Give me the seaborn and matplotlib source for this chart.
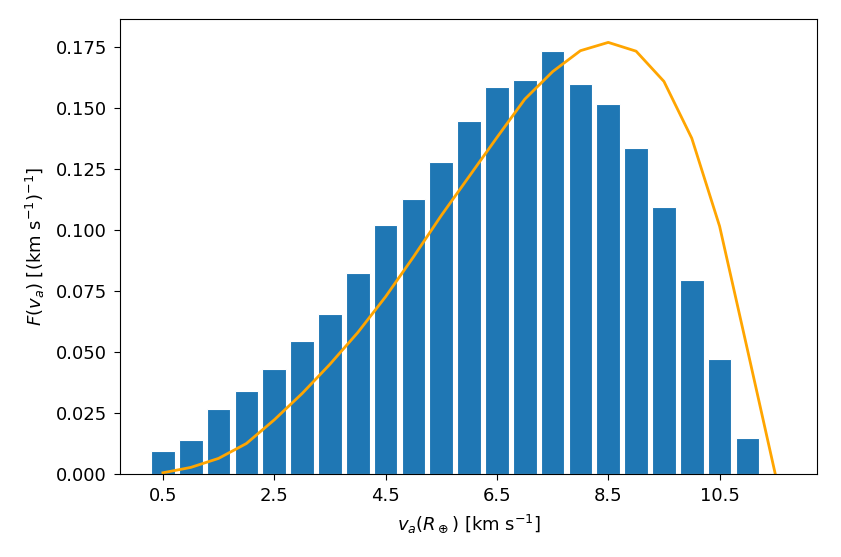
import matplotlib
matplotlib.use('Agg')
import matplotlib.pyplot as plt
import numpy as np
import seaborn as sns

# histogram of velocities (bar centres and heights)
v_bins = [0.5, 1.0, 1.5, 2.0, 2.5, 3.0, 3.5, 4.0, 4.5, 5.0, 5.5,
          6.0, 6.5, 7.0, 7.5, 8.0, 8.5, 9.0, 9.5, 10.0, 10.5, 11.0]
f_hist = [0.0095, 0.0141, 0.0267, 0.0339, 0.0432, 0.0545, 0.0657, 0.0825,
          0.1022, 0.1126, 0.1281, 0.1448, 0.1586, 0.1617, 0.1733, 0.1599,
          0.1518, 0.1335, 0.1097, 0.0795, 0.0470, 0.0148]

# model curve
v_model = [0.5, 1.0, 1.5, 2.0, 2.5, 3.0, 3.5, 4.0, 4.5, 5.0, 5.5, 6.0,
           6.5, 7.0, 7.5, 8.0, 8.5, 9.0, 9.5, 10.0, 10.5, 11.0, 11.5]
f_model = [0.0005, 0.0027, 0.0064, 0.0125, 0.0222, 0.0330, 0.0450, 0.0580,
           0.0727, 0.0890, 0.1060, 0.1220, 0.1380, 0.1537, 0.1650, 0.1736,
           0.1770, 0.1734, 0.1610, 0.1377, 0.1016, 0.0510, 0.0]

xticks = [0.5, 2.5, 4.5, 6.5, 8.5, 10.5]

fig = plt.figure(figsize=(8.41, 5.57), dpi=100)
ax = fig.add_axes([0.1427, 0.149, 0.8288, 0.8169])

sns.barplot(x=v_bins, y=f_hist, native_scale=True, width=0.85,
            color='#1f77b4', saturation=1, edgecolor='white', linewidth=0.8,
            errorbar=None, ax=ax)
sns.lineplot(x=v_model, y=f_model, color='orange', linewidth=2, ax=ax)

ax.set_xlim(-0.27, 12.25)
ax.set_ylim(0, 0.1866)
ax.set_xticks(xticks)
ax.set_xticklabels([str(t) for t in xticks])
ax.set_yticks(np.arange(0, 0.176, 0.025))
ax.tick_params(labelsize=13, length=4.5, pad=5)
ax.set_xlabel(r'$v_a(R_\oplus)$ [km s$^{-1}$]', fontsize=13, labelpad=5)
ax.set_ylabel(r'$F(v_a)$ [(km s$^{-1}$)$^{-1}$]', fontsize=13, labelpad=6)

fig.savefig('out.png', dpi=100)
